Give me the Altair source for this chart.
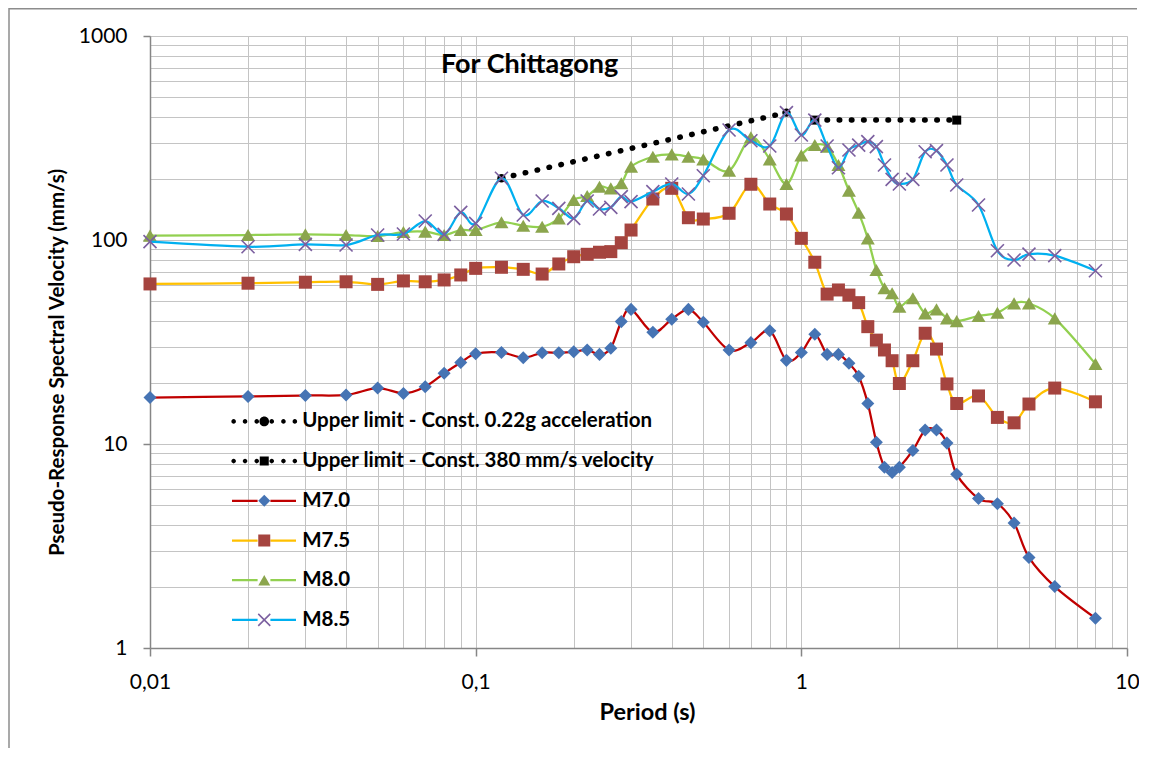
import altair as alt
import pandas as pd

# ---------------- data ----------------
periods = [0.01, 0.02, 0.03, 0.04, 0.05, 0.06, 0.07, 0.08, 0.09, 0.1,
           0.12, 0.14, 0.16, 0.18, 0.2, 0.22, 0.24, 0.26, 0.28, 0.3,
           0.35, 0.4, 0.45, 0.5, 0.6, 0.7, 0.8, 0.9, 1.0, 1.1,
           1.2, 1.3, 1.4, 1.5, 1.6, 1.7, 1.8, 1.9, 2.0, 2.2,
           2.4, 2.6, 2.8, 3.0, 3.5, 4.0, 4.5, 5.0, 6.0, 8.0]

m70 = [16.9, 17.1, 17.3, 17.4, 18.8, 17.7, 19.1, 22.2, 25.1, 27.7,
       28.1, 26.5, 28.0, 28.0, 28.3, 28.9, 27.5, 29.5, 39.8, 45.7,
       35.3, 40.9, 45.7, 39.5, 28.9, 31.4, 35.9, 25.7, 28.1, 34.5,
       27.5, 27.5, 24.9, 21.5, 15.8, 10.2, 7.7, 7.25, 7.7, 9.3,
       11.7, 11.7, 10.1, 7.1, 5.4, 5.1, 4.1, 2.78, 2.0, 1.4]

m75 = [60.9, 61.4, 62.1, 62.4, 60.6, 63.0, 62.4, 63.7, 67.4, 72.6,
       73.5, 71.8, 68.1, 76.3, 82.8, 85.1, 87.1, 87.7, 97.0, 111.9,
       158.8, 179.2, 128.6, 126.7, 135.2, 187.6, 150.1, 134.1, 101.9, 77.8,
       54.3, 56.9, 53.7, 49.3, 37.6, 32.3, 28.9, 25.6, 19.8, 25.6,
       34.9, 29.2, 19.7, 15.8, 17.2, 13.5, 12.7, 15.7, 18.8, 16.1]

m80 = [105.0, 105.8, 106.6, 105.8, 104.6, 109.4, 109.9, 105.8, 111.9, 111.9,
       122.1, 117.5, 116.2, 127.7, 157.0, 164.3, 182.5, 179.0, 189.7, 228.8,
       256.0, 263.0, 256.0, 248.6, 218.6, 318.7, 248.6, 188.2, 260.0, 292.0,
       287.0, 233.0, 174.5, 136.1, 101.9, 71.3, 58.0, 54.8, 47.1, 51.8,
       43.7, 45.7, 41.3, 40.0, 42.4, 44.0, 48.9, 48.9, 41.3, 24.7]

m85 = [98.1, 92.7, 95.2, 94.5, 105.8, 107.0, 123.9, 106.6, 136.7, 120.7,
       200.7, 132.6, 155.3, 143.0, 127.7, 155.3, 141.9, 144.6, 163.1, 154.1,
       172.6, 188.2, 168.1, 206.6, 346.0, 306.7, 289.0, 421.0, 327.0, 387.0,
       289.0, 226.0, 276.2, 292.0, 303.3, 286.8, 233.2, 198.4, 188.2, 198.4,
       270.8, 274.0, 233.2, 186.1, 148.5, 88.6, 79.8, 85.3, 83.8, 70.7]

accel_periods = [0.12, 0.9]
accel_values = [200.7, 421.0]
vel_periods = [1.1, 3.0]
vel_values = [387.0, 387.0]

series_names = ["Upper limit - Const. 0.22g acceleration",
                "Upper limit - Const. 380 mm/s velocity",
                "M7.0", "M7.5", "M8.0", "M8.5"]
line_colors = ["transparent", "transparent", "#C00000", "#FFC000", "#92D050", "#00B0F0"]
marker_colors = ["#000000", "#000000", "#4674B4", "#A5443F", "#8BA54D", "#7C60A0"]

x_ticks = [round(m * 10 ** e, 6) for e in range(-2, 1) for m in range(1, 10)] + [10]
y_ticks = [m * 10 ** e for e in range(0, 3) for m in range(1, 10)] + [1000]

# line-legend keys (labels not shown) must differ from the marker-legend keys
line_keys = ["line: " + n for n in series_names]

# ---------------- legend symbol paths ----------------
def dot(cx, r):
    return f"M{cx - r},0a{r},{r} 0 1,0 {2 * r},0a{r},{r} 0 1,0 {-2 * r},0Z"

dots = "".join(dot(c, 0.38) for c in [-5.1, -3.2, -1.25, 1.25, 3.2, 5.1])
accel_sym = dots + dot(0, 0.8)
vel_sym = dots + "M-0.75,-0.75H0.75V0.75H-0.75Z"
x_sym = ("M-0.91,-1.09L1.09,0.91L0.91,1.09L-1.09,-0.91Z"
         "M-1.09,0.91L0.91,-1.09L1.09,-0.91L-0.91,1.09Z")
shapes = [accel_sym, vel_sym, "diamond", "square", "triangle-up", x_sym]

# ---------------- data frames ----------------
rows = []
for name, key, vals in zip(series_names[2:], line_keys[2:], [m70, m75, m80, m85]):
    for p, v in zip(periods, vals):
        rows.append({"period": p, "value": v, "series": key, "mseries": name})
df = pd.DataFrame(rows)
acc_df = pd.DataFrame({"period": accel_periods, "value": accel_values})
vel_df = pd.DataFrame({"period": vel_periods, "value": vel_values})

FONT = "Lato"
DECADE = "abs(log(datum.value)/LN10 - round(log(datum.value)/LN10)) < 0.001"

x_enc = alt.X("period:Q",
              scale=alt.Scale(type="log", domain=[0.01, 10], nice=False),
              axis=alt.Axis(values=x_ticks,
                            labelExpr=f"({DECADE}) ? (datum.value >= 1 ? format(datum.value, 'd') : replace(format(datum.value, '.2~f'), '.', ',')) : ''",
                            title="Period (s)", grid=True, gridColor="#C4C4C4", gridWidth=1,
                            tickColor={"condition": {"test": DECADE, "value": "#868686"}, "value": "transparent"},
                            tickSize=8, tickWidth=1.5, domainColor="#868686", domainWidth=1.5,
                            labelFont=FONT, labelFontSize=21, labelColor="#000000",
                            labelPadding=15, labelFlush=False, labelOverlap=False,
                            titleFont=FONT, titleFontSize=23.5, titleFontWeight="bold",
                            titleColor="#000000", titleX=497, titleY=64,
                            titleBaseline="middle", titleAlign="center"))
y_enc = alt.Y("value:Q",
              scale=alt.Scale(type="log", domain=[1, 1000], nice=False),
              axis=alt.Axis(values=y_ticks,
                            labelExpr=f"({DECADE}) ? format(datum.value, 'd') : ''",
                            title="Pseudo-Response Spectral Velocity (mm/s)",
                            grid=True, gridColor="#C4C4C4", gridWidth=1,
                            tickColor={"condition": {"test": DECADE, "value": "#868686"}, "value": "transparent"},
                            tickSize=7, tickWidth=1.5, domainColor="#868686", domainWidth=1.5,
                            labelFont=FONT, labelFontSize=21, labelColor="#000000",
                            labelPadding=16, labelOverlap=False,
                            titleFont=FONT, titleFontSize=20.5, titleFontWeight="bold",
                            titleColor="#000000", titleX=-93, titleY=326,
                            titleBaseline="middle", titleAlign="center"))

LEG_Y = 375.4
ROW_PAD = 18.7
line_legend = alt.Legend(orient="none", legendX=80.5, legendY=LEG_Y, title=None,
                         symbolType="M-1,0H-0.2M0.2,0H1", symbolSize=4096,
                         symbolStrokeWidth=2.25, clipHeight=20, rowPadding=ROW_PAD,
                         labelExpr="''", labelFont=FONT, labelFontSize=20.5,
                         labelFontWeight="bold", labelLimit=600, padding=0)
marker_legend = alt.Legend(orient="none", legendX=80, legendY=LEG_Y, title=None,
                           symbolSize=144, symbolStrokeWidth=0, clipHeight=20,
                           rowPadding=ROW_PAD, labelOffset=27.7, symbolOffset=24,
                           labelFont=FONT, labelFontSize=20.5, labelFontWeight="bold",
                           labelColor="#000000", labelLimit=600, padding=0)

color_enc = alt.Color("series:N", scale=alt.Scale(domain=line_keys, range=line_colors),
                      legend=line_legend)
fill_enc = alt.Fill("mseries:N", scale=alt.Scale(domain=series_names, range=marker_colors),
                    legend=marker_legend)
shape_enc = alt.Shape("mseries:N", scale=alt.Scale(domain=series_names, range=shapes),
                      legend=marker_legend)

layers = []
# upper limit lines
dotted = dict(color="black", strokeWidth=5.5, strokeCap="round", strokeDash=[0.5, 11.7])
layers.append(alt.Chart(acc_df).mark_line(**dotted).encode(x=x_enc, y=y_enc))
layers.append(alt.Chart(acc_df).mark_point(shape="circle", filled=True, color="black",
                                           size=70, opacity=1).encode(x=x_enc, y=y_enc))
layers.append(alt.Chart(vel_df).mark_line(**dotted).encode(x=x_enc, y=y_enc))
layers.append(alt.Chart(vel_df).mark_point(shape="square", filled=True, color="black",
                                           size=81, opacity=1).encode(x=x_enc, y=y_enc))

sizes = {"M7.0": 170, "M7.5": 169, "M8.0": 196, "M8.5": 169}
for name, key in zip(series_names[2:], line_keys[2:]):
    sub = alt.Chart(df).transform_filter(alt.datum.mseries == name)
    layers.append(sub.mark_line(interpolate="cardinal", strokeWidth=2.25).encode(
        x=x_enc, y=y_enc, color=color_enc))
    layers.append(sub.mark_point(filled=True, opacity=1, size=sizes[name], strokeWidth=0).encode(
        x=x_enc, y=y_enc, fill=fill_enc, shape=shape_enc))

# outer chart-area frame (top and left edges)
frame_df = pd.DataFrame({"k": [0]})
layers.append(alt.Chart(frame_df).mark_rule(color="#8C8C8C", strokeWidth=1.5).encode(
    x=alt.value(-141), x2=alt.value(987), y=alt.value(-27.3)))
layers.append(alt.Chart(frame_df).mark_rule(color="#8C8C8C", strokeWidth=1.5).encode(
    x=alt.value(-141), y=alt.value(-28), y2=alt.value(712)))

chart = alt.layer(*layers).properties(
    width=977, height=612,
    autosize=alt.AutoSizeParams(type="none"),
    padding={"left": 142, "top": 28, "right": 12, "bottom": 100},
    title=alt.TitleParams("For Chittagong", anchor="start", frame="group", dx=291, dy=85,
                          offset=0, baseline="middle", font=FONT, fontSize=27,
                          fontWeight="bold", color="#000000"),
).configure_view(stroke=None).configure(background="white")

chart.save("out.html", embed_options={"renderer": "svg", "actions": False})
